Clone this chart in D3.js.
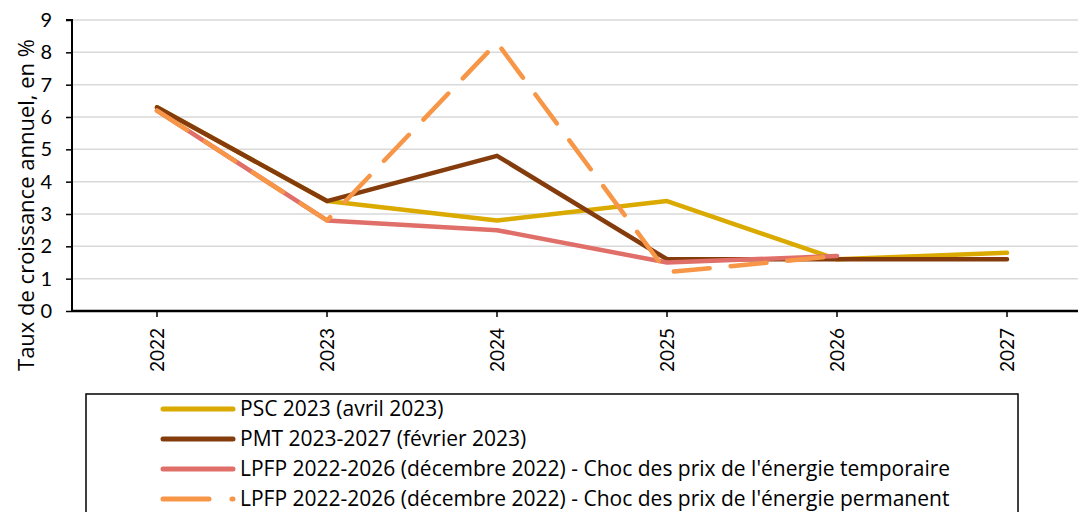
<!DOCTYPE html>
<html><head><meta charset="utf-8">
<script src="https://cdn.jsdelivr.net/npm/d3@7/dist/d3.min.js"></script>
<style>
html,body{margin:0;padding:0;background:#fff;}
svg{display:block;font-family:"Open Sans",Lato,sans-serif;}
</style></head>
<body><svg id="c" width="1078" height="512"></svg>
<script>
const years = ["2022","2023","2024","2025","2026","2027"];
const psc = [6.3, 3.4, 2.8, 3.4, 1.6, 1.8];
const pmt = [6.3, 3.4, 4.8, 1.6, 1.6, 1.6];
const lpfpTemp = [6.2, 2.8, 2.5, 1.5, 1.7, null];
const lpfpPerm = [6.2, 2.8, 8.3, 1.2, 1.7, null];
const yTicks = [0,1,2,3,4,5,6,7,8,9];
const seriesNames = [
  "PSC 2023 (avril 2023)",
  "PMT 2023-2027 (février 2023)",
  "LPFP 2022-2026 (décembre 2022) - Choc des prix de l'énergie temporaire",
  "LPFP 2022-2026 (décembre 2022) - Choc des prix de l'énergie permanent"
];
const yTitle = "Taux de croissance annuel, en %";

const series = [
  {name: seriesNames[0], values: psc, color: "#DAAA00", dash: null},
  {name: seriesNames[1], values: pmt, color: "#843C0C", dash: null},
  {name: seriesNames[2], values: lpfpTemp, color: "#DF6F68", dash: null},
  {name: seriesNames[3], values: lpfpPerm, color: "#F79646", dash: "36,21"}
];

const svg = d3.select("#c");
const mLeft = 72, mTop = 20, mBottom = 311;
const x = d3.scaleBand().domain(years).range([mLeft, mLeft + 1020]);
const y = d3.scaleLinear().domain([0, 9]).range([mBottom, mTop]);
const cx = d => x(d) + x.bandwidth() / 2;

// gridlines
svg.append("g").selectAll("line").data(yTicks.filter(t => t > 0)).join("line")
  .attr("x1", mLeft).attr("x2", 1078)
  .attr("y1", d => y(d)).attr("y2", d => y(d))
  .attr("stroke", "#d9d9d9").attr("stroke-width", 1.5);

// y axis
const ya = svg.append("g").attr("transform", `translate(${mLeft},0)`)
  .call(d3.axisLeft(y).tickValues(yTicks).tickSize(6).tickPadding(14).tickFormat(d3.format("d")));
ya.select(".domain").attr("stroke", "#000").attr("stroke-width", 2).attr("d", `M-6,${mTop}H0V${mBottom}`);
ya.selectAll(".tick line").attr("stroke", "#000").attr("stroke-width", 1.5);
ya.selectAll(".tick text").attr("font-size", 20).attr("fill", "#000").attr("font-family", "Lato");

// x axis
const xa = svg.append("g").attr("transform", `translate(0,${mBottom})`)
  .call(d3.axisBottom(x).tickSize(6).tickSizeOuter(0));
xa.select(".domain").attr("stroke", "#000").attr("stroke-width", 2.5).attr("d", `M${mLeft},0H1078`);
xa.selectAll(".tick line").attr("stroke", "#000").attr("stroke-width", 1.5);
xa.selectAll(".tick text").attr("font-size", 19).attr("fill", "#000").attr("font-family", "Lato")
  .attr("transform", "rotate(-90)").attr("text-anchor", "end")
  .attr("x", -17).attr("y", 0).attr("dy", "0.35em");

// y title
svg.append("text").attr("transform", "translate(34,205) rotate(-90)")
  .attr("text-anchor", "middle").attr("font-size", 22).attr("fill", "#000")
  .text(yTitle);

// lines
const line = d3.line().defined(d => d.v !== null).x(d => cx(d.k)).y(d => y(d.v));
series.forEach(s => {
  const pts = years.map((k, i) => ({k, v: s.values[i]}));
  svg.append("path").datum(pts).attr("d", line)
    .attr("fill", "none").attr("stroke", s.color).attr("stroke-width", 4.5)
    .attr("stroke-linecap", "round").attr("stroke-linejoin", "round")
    .attr("stroke-dasharray", s.dash);
});

// legend
svg.append("rect").attr("x", 86).attr("y", 394).attr("width", 932).attr("height", 140)
  .attr("fill", "none").attr("stroke", "#000").attr("stroke-width", 1.5);
const lg = svg.append("g").selectAll("g").data(series).join("g")
  .attr("transform", (d, i) => `translate(0,${409 + i * 30})`);
lg.append("line").attr("x1", 163).attr("x2", 233).attr("y1", 0).attr("y2", 0)
  .attr("stroke", d => d.color).attr("stroke-width", 5).attr("stroke-linecap", "round")
  .attr("stroke-dasharray", d => d.dash ? "46,23" : null);
lg.append("text").attr("x", 240).attr("y", 0).attr("dy", "0.35em")
  .attr("font-size", 21).attr("fill", "#000").text(d => d.name);
</script></body></html>
